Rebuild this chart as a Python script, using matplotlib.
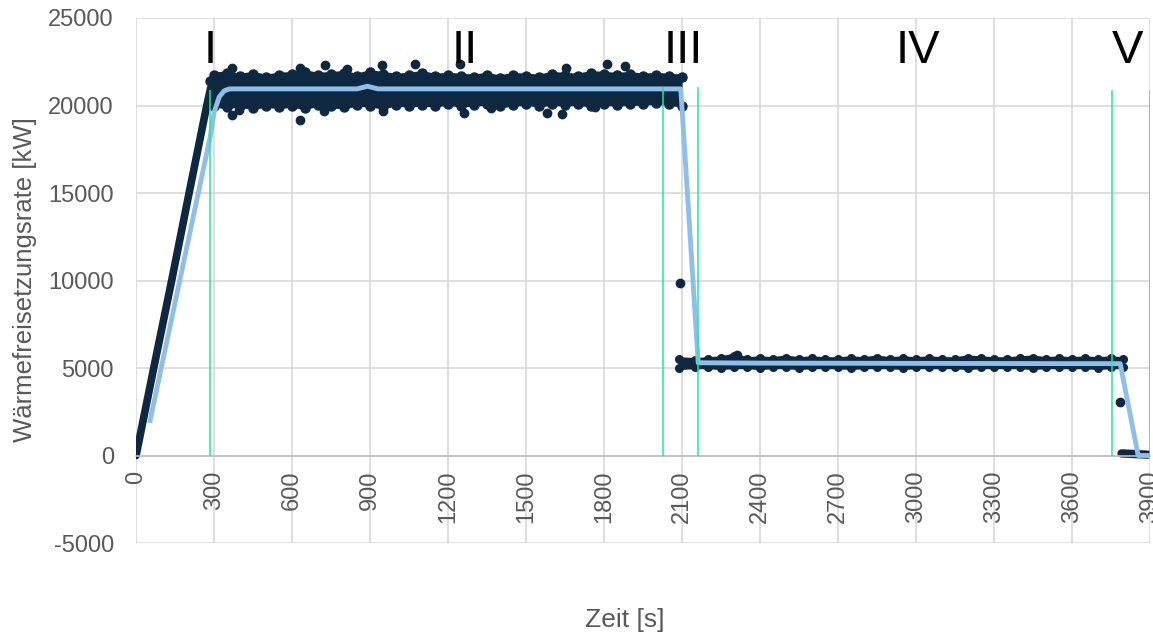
import matplotlib.pyplot as plt

plt.rcParams['font.family'] = ['Liberation Sans', 'DejaVu Sans']
plt.rcParams['axes.unicode_minus'] = False

# Anstieg (Phase I)
ramp_t = [0, 68, 137, 204, 272, 287]
ramp_q = [0, 5000, 10000, 15000, 20000, 21000]

# Plateau (Phase II): obere / untere Kante der Punktwolke
plat_t = [285, 300, 350, 400, 450, 500, 550, 600, 650, 700, 750, 800, 850,
          900, 950, 1000, 1050, 1100, 1150, 1200, 1250, 1300, 1350, 1400,
          1450, 1500, 1550, 1600, 1650, 1700, 1750, 1800, 1850, 1900, 1950,
          2000, 2050, 2100]
plat_hi = [21400, 21750, 21850, 21700, 21800, 21650, 21750, 21800, 21900,
           21750, 21800, 21850, 21700, 21900, 21800, 21700, 21750, 21850,
           21700, 21750, 21700, 21650, 21750, 21600, 21750, 21700, 21650,
           21800, 21750, 21700, 21850, 21800, 21750, 21800, 21700, 21750,
           21700, 21650]
plat_lo = [20200, 20000, 19900, 20000, 19850, 20000, 19900, 20000, 19850,
           20050, 19950, 19900, 20050, 20000, 19900, 20050, 20000, 20050,
           20000, 20100, 20000, 20050, 20100, 19950, 20050, 20100, 20000,
           20100, 20050, 20100, 20000, 20100, 20050, 20100, 20100, 20150,
           20100, 20000]

# Phase IV
low_t = [2088, 2150, 2200, 2250, 2300, 2350, 2400, 2450, 2500, 2550, 2600,
         2650, 2700, 2750, 2800, 2850, 2900, 2950, 3000, 3050, 3100, 3150,
         3200, 3250, 3300, 3350, 3400, 3450, 3500, 3550, 3600, 3650, 3700,
         3750, 3795]
low_hi = [5500, 5450, 5500, 5550, 5700, 5500, 5550, 5500, 5600, 5500,
          5550, 5500, 5500, 5550, 5500, 5600, 5500, 5550, 5500, 5550,
          5500, 5500, 5600, 5550, 5500, 5500, 5550, 5600, 5500, 5550,
          5500, 5550, 5500, 5550, 5500]
low_lo = [5000, 5050, 5050, 5000, 5050, 5050, 5000, 5050, 5050, 5000,
          5050, 5050, 5050, 5000, 5050, 5050, 5050, 5000, 5050, 5050,
          5050, 5050, 5000, 5050, 5050, 5050, 5050, 5000, 5050, 5050,
          5050, 5050, 5000, 5050, 5050]

# Phase V (Abklingen)
end_t = [3790, 3890]
end_q = [120, 50]

# einzelne Ausreisser
out_t = [369, 631, 727, 811, 946, 1073, 1246, 1654, 1811, 1881,
         369, 396, 631, 723, 950, 1262, 1365, 1581, 1638, 1765,
         2092, 3785, 2312]
out_q = [22170, 22170, 22290, 22110, 22290, 22400, 22400, 22170, 22400, 22230,
         19430, 19770, 19200, 19660, 19660, 19600, 19830, 19600, 19490, 19890,
         9830, 3030, 5770]

# gleitender Mittelwert
avg_t = [54, 285, 300, 320, 340, 360, 600, 850, 890, 930, 1200, 1600, 2000,
         2095, 2162, 2400, 2800, 3200, 3600, 3785, 3854, 3900]
avg_q = [2000, 18200, 19600, 20500, 20850, 20950, 20950, 20950, 21100, 20950,
         20950, 20950, 20950, 20950, 5300, 5280, 5270, 5260, 5250, 5250, 0, 0]

# Phasengrenzen
bound_t = [285, 2025, 2163, 3754, 3898]
bound_top = [20900, 21030, 21030, 20860, 20860]
phase_names = ['I', 'II', 'III', 'IV', 'V']
phase_t = [285, 1265, 2104, 3008, 3812]

navy = '#0e2841'
lightblue = '#8fbfe9'
green = '#1ee8a0'
grey = '#595959'

fig = plt.figure(figsize=(11.53, 6.36), dpi=100)
ax = fig.add_axes([0.118, 0.1462, 0.8795, 0.8255])

# Punktwolke
ax.plot(ramp_t, ramp_q, color=navy, lw=5.5, solid_capstyle='round', zorder=2)
ax.fill_between(plat_t, plat_lo, plat_hi, color=navy, lw=0, zorder=2)
for edge in (plat_hi, plat_lo):
    ax.plot(plat_t, edge, '-o', color=navy, lw=3, ms=6.5, zorder=2)
ax.fill_between(low_t, low_lo, low_hi, color=navy, lw=0, zorder=2)
for edge in (low_hi, low_lo):
    ax.plot(low_t, edge, '-o', color=navy, lw=3, ms=5.5, zorder=2)
ax.plot(end_t, end_q, color=navy, lw=6, solid_capstyle='round', zorder=2)
ax.plot(out_t, out_q, 'o', color=navy, ms=6, zorder=2)

ax.plot(avg_t, avg_q, color=lightblue, lw=3.5, zorder=3)
ax.vlines(bound_t, 0, bound_top, color=green, lw=1.1, zorder=4)

for name, t in zip(phase_names, phase_t):
    ax.text(t, 22450, name, fontsize=34, ha='center', va='baseline', zorder=5)

ax.set_xlim(0, 3900)
ax.set_ylim(-5000, 25000)
ax.set_xticks(range(0, 3901, 300))
ax.set_yticks(range(-5000, 25001, 5000))
ax.grid(color='#d9d9d9', lw=1.2)
ax.set_axisbelow(True)
for s in ['top', 'right', 'left']:
    ax.spines[s].set_visible(False)
ax.spines['bottom'].set_position(('data', 0))
ax.spines['bottom'].set_color('#bfbfbf')
ax.spines['bottom'].set_linewidth(1.2)
ax.tick_params(axis='x', rotation=90, length=0, pad=11, labelsize=17, labelcolor=grey)
ax.tick_params(axis='y', length=0, pad=16, labelsize=17, labelcolor=grey)

fig.text(25 / 1153, 1 - 280 / 636, 'Wärmefreisetzungsrate [kW]', rotation=90,
         ha='center', va='center', fontsize=18.5, color=grey)
fig.text(625 / 1153, 1 - 620 / 636, 'Zeit [s]', ha='center', va='center',
         fontsize=19, color=grey)

fig.savefig('out.png', dpi=100)
